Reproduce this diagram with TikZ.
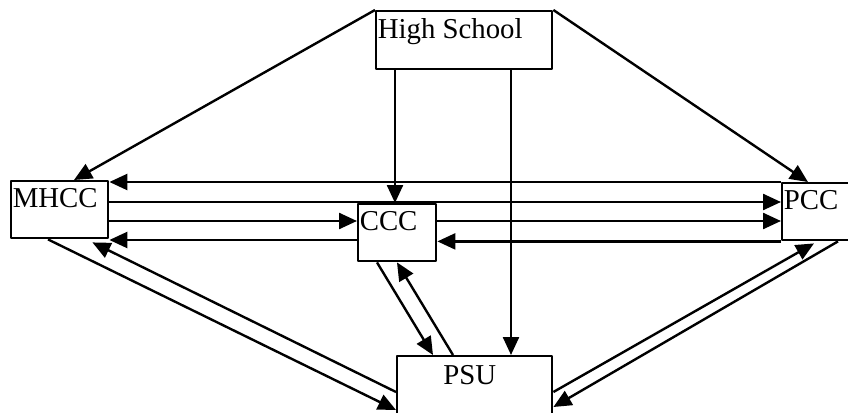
\documentclass[tikz,border=0pt]{standalone}
\usepackage{fontspec}
\setmainfont{Liberation Serif}
\usetikzlibrary{arrows.meta,calc}

\tikzset{
  box/.style={draw, line width=1.2pt, inner sep=0pt, anchor=north west},
  arr/.style={line width=1.2pt, -{Triangle[length=9pt,width=8pt]}},
  tag/.style={anchor=north west, inner xsep=1.2pt, inner ysep=4pt, font=\fontsize{14.4}{17}\selectfont}
}

\begin{document}
\begin{tikzpicture}[x=0.5pt, y=-0.5pt, line join=round]
\useasboundingbox (0,0) rectangle (848,413);
% the five boxes
\node[box, minimum width=88pt, minimum height=29pt, label={[tag]north west:High School}] (HS) at (375,10) {};
\node[box, minimum width=48.5pt, minimum height=28.5pt, label={[tag]north west:MHCC}] (MHCC) at (10,180) {};
\node[box, minimum width=40pt, minimum height=28.5pt, label={[tag]north west:PCC}] (PCC) at (781,182) {};
\node[box, minimum width=39pt, minimum height=28.5pt, label={[tag]north west:CCC}] (CCC) at (357,203) {};
\node[box, minimum width=77.5pt, minimum height=31pt, label={[tag, anchor=north, inner ysep=5pt, xshift=-2.5pt]north:PSU}] (PSU) at (396,355) {};
% from high school
\draw[arr] (HS.north west) -- ($(MHCC.north west)+(64,0)$);
\draw[arr] (HS.north east) -- ($(PCC.north west)+(27,0)$);
\draw[arr] ($(HS.south west)+(20,0)$) -- ($(CCC.north west)+(38,0)$);
\draw[arr] ($(HS.south west)+(136,0)$) -- ($(PSU.north west)+(115,0)$);
% horizontal links
\draw[arr] (PCC.north west) -- (PCC.north west -| MHCC.east);
\draw[arr] ($(MHCC.north east)+(0,22)$) coordinate (m1) -- (m1 -| PCC.west);
\draw[arr] ($(MHCC.north east)+(0,41)$) coordinate (m2) -- (m2 -| CCC.west);
\draw[arr] ($(CCC.north west)+(0,37)$) coordinate (c1) -- (c1 -| MHCC.east);
\draw[arr] ($(CCC.north east)+(0,18)$) coordinate (c2) -- (c2 -| PCC.west);
\draw[arr] (PCC.south west) -- (PCC.south west -| CCC.east);
% links to PSU
\draw[arr] ($(CCC.south west)+(20,0)$) -- ($(PSU.north west)+(37,0)$);
\draw[arr] ($(PSU.north west)+(57,0)$) -- ($(CCC.south west)+(40,0)$);
\draw[arr] ($(MHCC.south west)+(38,0)$) -- ($(PSU.north west)+(0,55)$);
\draw[arr] ($(PSU.north west)+(0,37)$) -- ($(MHCC.south east)+(-17,3)$);
\draw[arr] ($(PSU.north east)+(0,37)$) -- ($(PCC.south west)+(33,2)$);
\draw[arr] ($(PCC.south west)+(57,0)$) -- ($(PSU.north east)+(0,52)$);
\end{tikzpicture}
\end{document}
